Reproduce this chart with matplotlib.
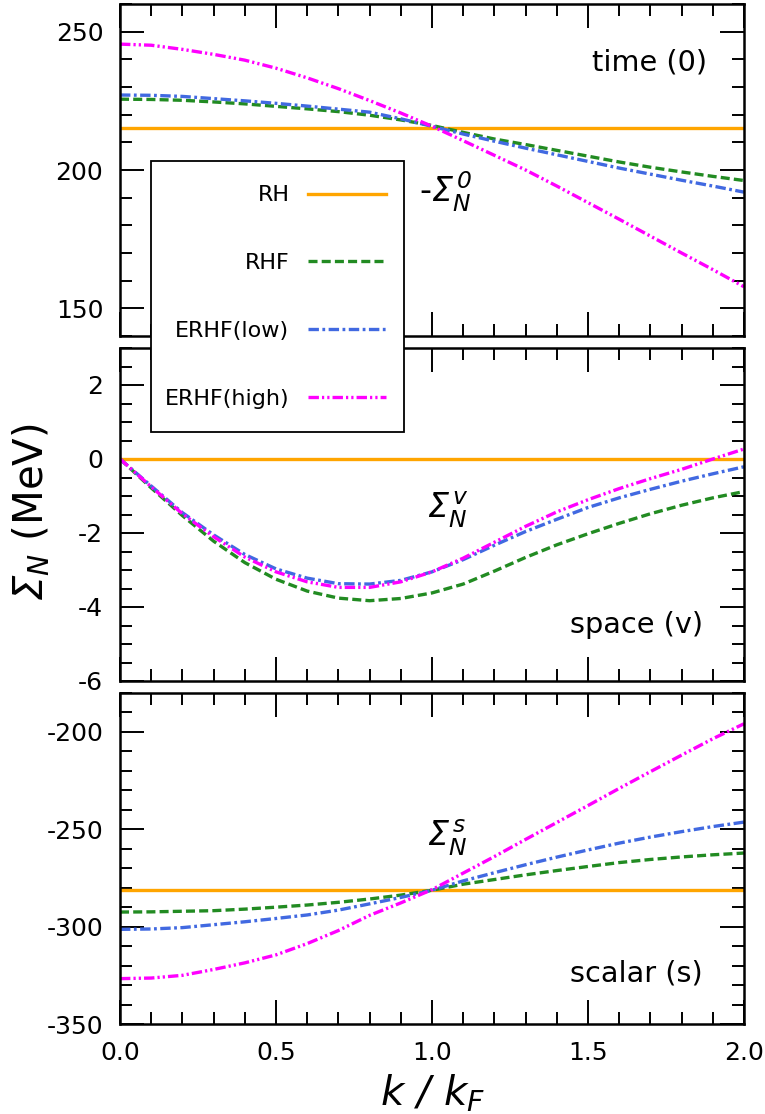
import matplotlib
matplotlib.use('Agg')
import matplotlib.pyplot as plt
from matplotlib.patches import Rectangle
from matplotlib.ticker import MultipleLocator, FormatStrFormatter

plt.rcParams['font.family'] = ['DejaVu Sans']
# all math text slanted, like the original labels
plt.rcParams['mathtext.fontset'] = 'custom'
plt.rcParams['mathtext.rm'] = 'DejaVu Sans:italic'
plt.rcParams['mathtext.it'] = 'DejaVu Sans:italic'
plt.rcParams['mathtext.bf'] = 'DejaVu Sans:bold'
plt.rcParams['axes.unicode_minus'] = False
plt.rcParams['lines.scale_dashes'] = False

# k / kF grid
k = [0.0, 0.1, 0.2, 0.3, 0.4, 0.5, 0.6, 0.7, 0.8, 0.9, 1.0,
     1.1, 1.2, 1.3, 1.4, 1.5, 1.6, 1.7, 1.8, 1.9, 2.0]

labels = ['RH', 'RHF', 'ERHF(low)', 'ERHF(high)']

# time component (-Sigma^0)
time_rh = [215.1] * 21
time_rhf = [225.6, 225.5, 225.2, 224.6, 223.9, 223.0, 222.1, 221.1, 219.8, 218.1, 216.1,
            213.6, 211.2, 209.2, 207.1, 205.0, 202.9, 201.0, 199.3, 197.7, 196.2]
time_low = [227.1, 227.0, 226.6, 225.8, 225.0, 224.1, 223.1, 222.0, 220.9, 218.5, 215.8,
            213.0, 210.4, 207.9, 205.5, 203.1, 200.7, 198.5, 196.3, 194.2, 192.0]
time_high = [245.5, 245.1, 243.6, 241.8, 239.7, 236.8, 233.3, 229.4, 225.1, 220.6, 215.8,
             210.6, 205.3, 200.0, 194.2, 188.2, 182.2, 176.1, 170.0, 164.0, 157.8]

# space component (Sigma^v)
space_rh = [0.0] * 21
space_rhf = [0.0, -0.78, -1.53, -2.22, -2.80, -3.25, -3.57, -3.76, -3.83, -3.77, -3.62,
             -3.38, -3.03, -2.66, -2.32, -2.02, -1.74, -1.48, -1.25, -1.05, -0.88]
space_low = [0.0, -0.73, -1.45, -2.05, -2.58, -2.97, -3.22, -3.37, -3.38, -3.28, -3.05,
             -2.72, -2.33, -1.96, -1.63, -1.31, -1.05, -0.82, -0.60, -0.40, -0.21]
space_high = [0.0, -0.75, -1.48, -2.10, -2.65, -3.05, -3.32, -3.47, -3.47, -3.32, -3.05,
              -2.68, -2.25, -1.82, -1.43, -1.10, -0.80, -0.53, -0.28, 0.00, 0.27]

# scalar component (Sigma^s)
scalar_rh = [-281.3] * 21
scalar_rhf = [-292.5, -292.4, -292.1, -291.8, -291.0, -290.0, -288.9, -287.5, -285.8, -283.8, -281.3,
              -278.2, -275.8, -273.4, -271.2, -269.1, -267.1, -265.5, -264.2, -263.1, -262.2]
scalar_low = [-301.4, -301.2, -300.5, -299.0, -297.5, -295.8, -294.0, -291.5, -288.3, -285.0, -281.3,
              -276.5, -272.3, -268.2, -264.3, -260.6, -257.1, -254.0, -251.2, -248.6, -246.3]
scalar_high = [-326.7, -326.4, -325.0, -322.0, -318.6, -314.5, -308.7, -302.0, -294.2, -287.8, -281.0,
               -272.5, -264.0, -255.2, -246.5, -237.8, -229.0, -220.4, -211.9, -203.5, -195.8]

colors = ['#FFA500', '#228B22', '#4169E1', '#FF00FF']
dashes = [None, (6.5, 3.0), (7.5, 2.5, 2.0, 2.5), (7.5, 2.2, 1.6, 2.2, 1.6, 2.2)]
lw = 2.4

fig = plt.figure(figsize=(7.65, 11.14), dpi=100)
W, H = 765.0, 1114.0
x0, x1 = 120, 744
ax1 = fig.add_axes([x0 / W, 1 - 336 / H, (x1 - x0) / W, 332 / H])
ax2 = fig.add_axes([x0 / W, 1 - 681 / H, (x1 - x0) / W, 333 / H])
ax3 = fig.add_axes([x0 / W, 1 - 1024 / H, (x1 - x0) / W, 331 / H])


def draw(ax, series):
    lines = []
    for y, c, d in zip(series, colors, dashes):
        ln, = ax.plot(k, y, color=c, lw=lw)
        if d is not None:
            ln.set_dashes(d)
        lines.append(ln)
    return lines


def style(ax, ylim, major, minor, show_x):
    ax.set_xlim(0, 2)
    ax.set_ylim(*ylim)
    ax.xaxis.set_major_locator(MultipleLocator(0.5))
    ax.xaxis.set_minor_locator(MultipleLocator(0.1))
    ax.yaxis.set_major_locator(MultipleLocator(major))
    ax.yaxis.set_minor_locator(MultipleLocator(minor))
    ax.xaxis.set_major_formatter(FormatStrFormatter('%.1f'))
    ax.yaxis.set_major_formatter(FormatStrFormatter('%d'))
    ax.tick_params(which='both', direction='in', top=True, right=True,
                   width=1.4, labelsize=18, pad=12)
    ax.tick_params(which='major', length=17)
    ax.tick_params(which='minor', length=8.5)
    if not show_x:
        ax.tick_params(labelbottom=False)
    for s in ax.spines.values():
        s.set_linewidth(1.8)


handles = draw(ax1, [time_rh, time_rhf, time_low, time_high])
draw(ax2, [space_rh, space_rhf, space_low, space_high])
draw(ax3, [scalar_rh, scalar_rhf, scalar_low, scalar_high])

style(ax1, (140, 260), 50, 10, False)
style(ax2, (-6, 3), 2, 0.5, False)
style(ax3, (-350, -180), 50, 10, True)

ax1.text(0.941, 0.825, 'time (0)', transform=ax1.transAxes, ha='right', va='center', fontsize=20.7)
ax2.text(0.934, 0.168, 'space (v)', transform=ax2.transAxes, ha='right', va='center', fontsize=20.7)
ax3.text(0.934, 0.154, 'scalar (s)', transform=ax3.transAxes, ha='right', va='center', fontsize=20.7)

ax1.text(0.479, 0.434, r'-$Σ_N^{\,0}$', transform=ax1.transAxes, ha='left', va='center', fontsize=24)
ax2.text(0.492, 0.514, r'$Σ_N^{\,v}$', transform=ax2.transAxes, ha='left', va='center', fontsize=24)
ax3.text(0.492, 0.562, r'$Σ_N^{\,s}$', transform=ax3.transAxes, ha='left', va='center', fontsize=24)

fig.text(32 / W, 1 - 512 / H, r'$Σ_N$ (MeV)', rotation=90, ha='center', va='center', fontsize=29)
fig.text(432 / W, 1 - 1105 / H, r'$k\ /\ k_F$', ha='center', va='baseline', fontsize=29)

# legend box spans the top two panels; frame drawn separately so the padding can differ
box = Rectangle((151 / W, 1 - 432 / H), 253 / W, 271 / H, transform=fig.transFigure,
                facecolor='white', edgecolor='black', lw=1.3, zorder=4.9)
fig.add_artist(box)
leg = fig.legend(handles, labels, loc='center', bbox_to_anchor=(275.5 / W, 1 - 297 / H),
                 bbox_transform=fig.transFigure, borderaxespad=0, markerfirst=False,
                 fontsize=16, handlelength=3.5, handletextpad=0.85, labelspacing=2.15,
                 borderpad=0, frameon=False)

fig.savefig('out.png', dpi=100)
